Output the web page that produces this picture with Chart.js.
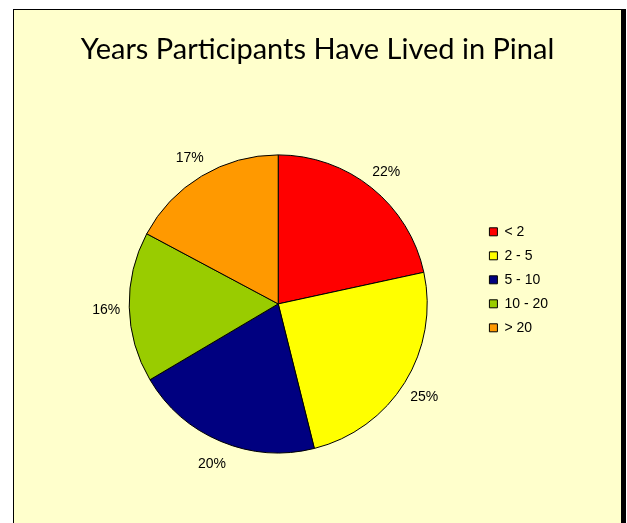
<!DOCTYPE html>
<html>
<head>
<meta charset="utf-8">
<script src="https://cdn.jsdelivr.net/npm/chart.js@4"></script>
<style>
  html, body { margin: 0; padding: 0; background: #fff; overflow: hidden; }
  .frame {
    position: absolute; left: 13px; top: 9px; width: 607px; height: 530px;
    background: #ffffcc; border-left: 1px solid #000; border-top: 1px solid #000;
    border-right: 5px solid #000;
  }
  #wrap { position: absolute; left: 0; top: 0; width: 627px; height: 523px; }
</style>
</head>
<body>
<div class="frame"></div>
<div id="wrap"><canvas id="pie"></canvas></div>
<script>
// data
const categories = ["< 2", "2 - 5", "5 - 10", "10 - 20", "> 20"];
const shares = [21.6, 24.5, 20.4, 16.3, 17.2];
const sliceColors = ["#ff0000", "#ffff00", "#000080", "#99cc00", "#ff9900"];

// percent labels outside each slice
const outsideLabels = {
  id: "outsideLabels",
  afterDatasetsDraw(chart) {
    const ctx = chart.ctx;
    const arcs = chart.getDatasetMeta(0).data;
    ctx.save();
    ctx.font = "14px 'Liberation Sans', Arial, sans-serif";
    ctx.fillStyle = "#000";
    ctx.textAlign = "center";
    ctx.textBaseline = "middle";
    arcs.forEach((arc, i) => {
      const mid = (arc.startAngle + arc.endAngle) / 2;
      const r = arc.outerRadius + 23;
      ctx.fillText(Math.round(shares[i]) + "%", arc.x + Math.cos(mid) * r, arc.y + Math.sin(mid) * r + 2);
    });
    ctx.restore();
  }
};

new Chart(document.getElementById("pie"), {
  type: "pie",
  data: {
    labels: categories,
    datasets: [{
      data: shares,
      backgroundColor: sliceColors,
      borderColor: "#000",
      borderWidth: 1,
      radius: 149,
      hoverOffset: 0
    }]
  },
  plugins: [outsideLabels],
  options: {
    responsive: true,
    maintainAspectRatio: false,
    animation: false,
    events: [],
    layout: { padding: { left: 77, right: 69, top: 0, bottom: 70 } },
    plugins: {
      tooltip: { enabled: false },
      title: {
        display: true,
        text: "Years Participants Have Lived in Pinal",
        color: "#000",
        font: { family: "Lato", size: 29, weight: "normal" },
        padding: { top: 32, bottom: 88 }
      },
      legend: {
        position: "right",
        align: "start",
        fullSize: false,
        title: { display: true, text: " ", font: { size: 10 }, padding: 24 },
        labels: {
          boxWidth: 8,
          boxHeight: 8,
          padding: 10,
          color: "#000",
          font: { family: "'Liberation Sans', Arial, sans-serif", size: 14 }
        }
      }
    }
  }
});
</script>
</body>
</html>
